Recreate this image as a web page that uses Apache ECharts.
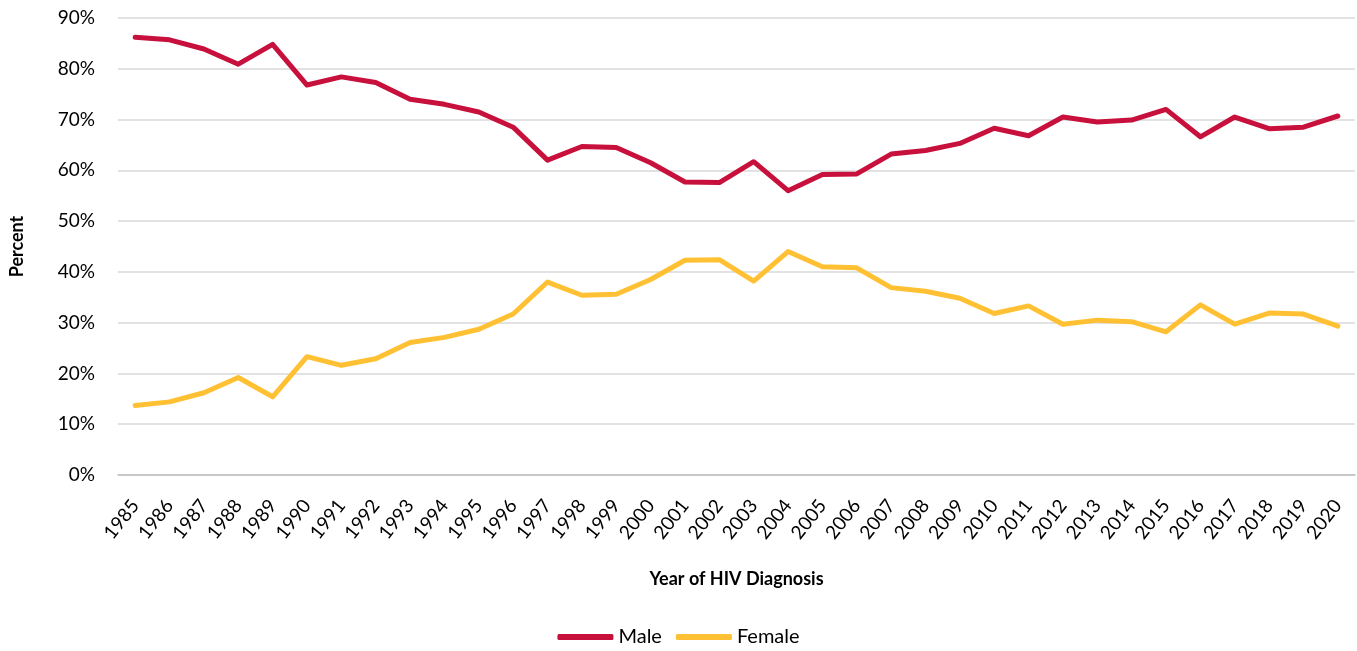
<!DOCTYPE html>
<html>
<head>
<meta charset="utf-8">
<script src="https://cdn.jsdelivr.net/npm/echarts@6/dist/echarts.min.js"></script>
<style>
  html, body { margin: 0; padding: 0; background: #fff; }
  #chart { width: 1357px; height: 651px; }
</style>
</head>
<body>
<div id="chart"></div>
<script>
// years of diagnosis
var years = ['1985','1986','1987','1988','1989','1990','1991','1992','1993','1994','1995','1996',
  '1997','1998','1999','2000','2001','2002','2003','2004','2005','2006','2007','2008',
  '2009','2010','2011','2012','2013','2014','2015','2016','2017','2018','2019','2020'];

// percent male / female
var male = [86.2, 85.7, 83.9, 80.9, 84.8, 76.8, 78.4, 77.3, 74.0, 73.0, 71.5, 68.5,
  62.0, 64.7, 64.5, 61.5, 57.7, 57.6, 61.7, 56.0, 59.2, 59.3, 63.2, 63.9,
  65.3, 68.3, 66.8, 70.5, 69.5, 69.9, 72.0, 66.6, 70.5, 68.2, 68.5, 70.7];
var female = [13.7, 14.4, 16.2, 19.2, 15.4, 23.3, 21.6, 22.9, 26.1, 27.1, 28.7, 31.7,
  38.0, 35.4, 35.6, 38.5, 42.3, 42.4, 38.2, 44.0, 41.0, 40.8, 36.9, 36.2,
  34.8, 31.8, 33.3, 29.7, 30.5, 30.2, 28.2, 33.5, 29.7, 31.9, 31.7, 29.3];

var font = 'Lato, "Open Sans", sans-serif';
var chart = echarts.init(document.getElementById('chart'));

chart.setOption({
  animation: false,
  grid: { left: 118, right: 2, top: 18, bottom: 176 },
  legend: {
    bottom: -1,
    left: 'center',
    icon: 'roundRect',
    itemWidth: 56,
    itemHeight: 6,
    itemGap: 14,
    textStyle: { fontFamily: font, fontSize: 20, color: '#000' },
    data: ['Male', 'Female']
  },
  xAxis: {
    type: 'category',
    data: years,
    boundaryGap: true,
    name: 'Year of HIV Diagnosis',
    nameLocation: 'middle',
    nameGap: 95,
    nameTextStyle: { fontFamily: font, fontSize: 18, fontWeight: 'bold', color: '#000' },
    axisLine: { lineStyle: { color: '#bfbfbf', width: 1.5 } },
    axisTick: { alignWithLabel: false, length: 6, lineStyle: { color: '#bfbfbf', width: 1.5 } },
    axisLabel: { rotate: 52, interval: 0, fontFamily: font, fontSize: 19, color: '#000', margin: 27 }
  },
  yAxis: {
    type: 'value',
    min: 0,
    max: 90,
    interval: 10,
    name: 'Percent',
    nameLocation: 'middle',
    nameGap: 92,
    nameTextStyle: { fontFamily: font, fontSize: 18, fontWeight: 'bold', color: '#000' },
    axisLine: { show: false },
    axisTick: { show: false },
    axisLabel: { formatter: '{value}%', fontFamily: font, fontSize: 19, color: '#000', margin: 23 },
    splitLine: { lineStyle: { color: '#d9d9d9', width: 1.5 } }
  },
  series: [
    {
      name: 'Male',
      type: 'line',
      data: male,
      symbol: 'none',
      color: '#c8103c',
      lineStyle: { width: 5, color: '#c8103c', cap: 'round', join: 'round' }
    },
    {
      name: 'Female',
      type: 'line',
      data: female,
      symbol: 'none',
      color: '#ffc133',
      lineStyle: { width: 5, color: '#ffc133', cap: 'round', join: 'round' }
    }
  ]
});
</script>
</body>
</html>
